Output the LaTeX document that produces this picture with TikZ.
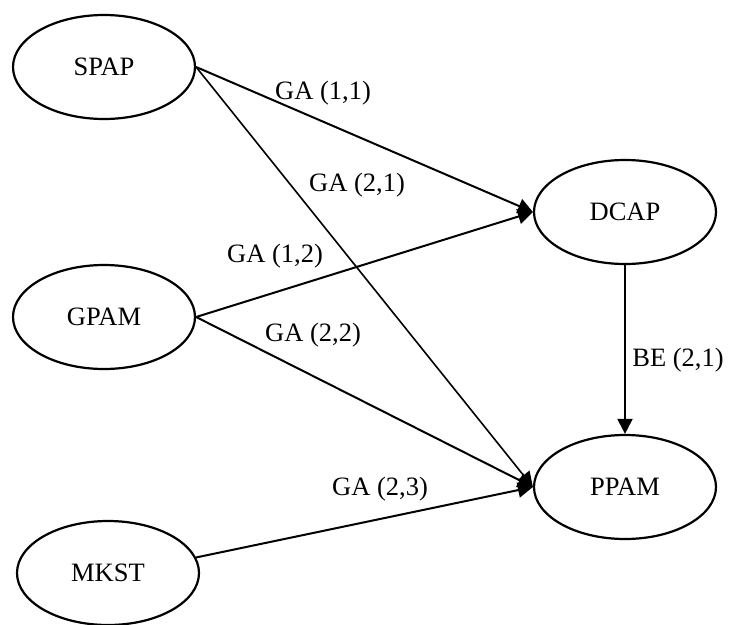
\documentclass[tikz,border=0pt]{standalone}
\usepackage{fontspec}
\setmainfont{Liberation Serif}
\usetikzlibrary{arrows.meta,shapes.geometric}

\tikzset{
  var/.style={ellipse, draw, line width=2.2pt, minimum width=182pt,
    minimum height=104pt, inner sep=0pt},
  link/.style={line width=2pt, -{Triangle[length=15pt,width=15pt]}},
  lbl/.style={inner sep=0pt}
}

\begin{document}
\begin{tikzpicture}[x=1pt, y=-1pt, font=\fontsize{26.5}{30}\selectfont]
  \useasboundingbox (0,0) rectangle (731,624);

  % latent variables
  \node[var] (spap) at (104,67)  {SPAP};
  \node[var] (gpam) at (104,317) {GPAM};
  \node[var] (mkst) at (108,573) {MKST};
  \node[var] (dcap) at (625,212) {DCAP};
  \node[var] (ppam) at (625,487) {PPAM};

  % paths
  \draw[link] (spap.east) -- (dcap.west);
  \draw[link, line width=1.6pt] (spap.east) -- (ppam.west);
  \draw[link] (gpam.east) -- (dcap.west);
  \draw[link] (gpam.east) -- (ppam.west);
  \draw[link] (mkst.10) -- (ppam.west);
  \draw[link] (dcap.south) -- (ppam.north);

  % path labels
  \node[lbl] (l11) at (323,93)  {GA (1,1)};
  \node[lbl] (l21) at (357,185) {GA (2,1)};
  \node[lbl] (l12) at (275,256) {GA (1,2)};
  \node[lbl] (l22) at (313,335) {GA (2,2)};
  \node[lbl] (l23) at (380,489) {GA (2,3)};
  \node[lbl] (lbe) at (678,360) {BE (2,1)};
\end{tikzpicture}
\end{document}
